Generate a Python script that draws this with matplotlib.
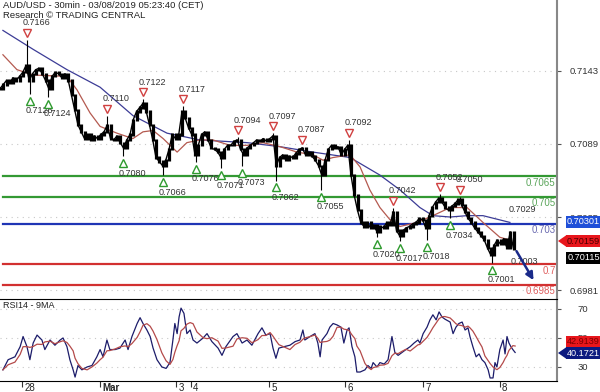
import numpy as np
import matplotlib
matplotlib.use('Agg')
import matplotlib.pyplot as plt
from matplotlib.patches import Polygon
from matplotlib.transforms import ScaledTranslation

plt.rcParams['font.family'] = ['Liberation Sans', 'DejaVu Sans']

# hourly closes, AUD/USD (30min chart, sampled every hour)
close = [0.7130, 0.7133, 0.7136, 0.7134, 0.7138, 0.7136, 0.7139, 0.7142, 0.7147, 0.7136,
         0.7141, 0.7144, 0.7145, 0.7141, 0.7136, 0.7130, 0.7139, 0.7142, 0.7141, 0.7138,
         0.7141, 0.7136, 0.7125, 0.7114, 0.7103, 0.7098, 0.7093, 0.7096, 0.7092, 0.7095,
         0.7093, 0.7096, 0.7098, 0.7103, 0.7093, 0.7092, 0.7095, 0.7090, 0.7086, 0.7092,
         0.7096, 0.7107, 0.7113, 0.7116, 0.7119, 0.7113, 0.7103, 0.7092, 0.7079, 0.7076,
         0.7073, 0.7077, 0.7085, 0.7096, 0.7093, 0.7096, 0.7113, 0.7108, 0.7101, 0.7096,
         0.7081, 0.7088, 0.7096, 0.7098, 0.7092, 0.7086, 0.7085, 0.7083, 0.7079, 0.7085,
         0.7088, 0.7088, 0.7091, 0.7092, 0.7085, 0.7081, 0.7086, 0.7088, 0.7090, 0.7092,
         0.7091, 0.7093, 0.7091, 0.7093, 0.7095, 0.7073, 0.7079, 0.7081, 0.7077, 0.7080,
         0.7079, 0.7082, 0.7085, 0.7086, 0.7081, 0.7083, 0.7080, 0.7077, 0.7073, 0.7066,
         0.7077, 0.7085, 0.7088, 0.7086, 0.7087, 0.7081, 0.7085, 0.7088, 0.7066, 0.7051,
         0.7040, 0.7031, 0.7028, 0.7031, 0.7027, 0.7029, 0.7024, 0.7028, 0.7027, 0.7031,
         0.7029, 0.7039, 0.7025, 0.7021, 0.7025, 0.7027, 0.7028, 0.7030, 0.7031, 0.7034,
         0.7033, 0.7027, 0.7036, 0.7042, 0.7046, 0.7049, 0.7046, 0.7042, 0.7040, 0.7043,
         0.7045, 0.7048, 0.7044, 0.7039, 0.7034, 0.7031, 0.7027, 0.7024, 0.7021, 0.7018,
         0.7012, 0.7007, 0.7014, 0.7018, 0.7015, 0.7019, 0.7012, 0.7024, 0.70115]
hours = np.arange(len(close))

# moving averages on price
ma_fast_t = [0.9, 5.2, 10.2, 20.6, 23.7, 27.7, 30.8, 36.0, 40.9, 44.0, 47.1, 50.2, 54.5,
             57.5, 61.5, 65.5, 70.8, 76.0, 80.9, 86.2, 91.4, 96.3, 99.4, 102.5, 107.7,
             110.8, 113.8, 116.9, 120.0, 123.1, 128.3, 133.2, 138.5, 143.7, 148.6, 153.8, 156.9]
ma_fast = [0.7155, 0.7144, 0.7140, 0.7139, 0.7129, 0.7112, 0.7102, 0.7097, 0.7093, 0.7098,
           0.7099, 0.7093, 0.7083, 0.7090, 0.7092, 0.7092, 0.7088, 0.7088, 0.7090, 0.7087,
           0.7083, 0.7081, 0.7077, 0.7079, 0.7081, 0.7072, 0.7055, 0.7042, 0.7033, 0.7028,
           0.7031, 0.7036, 0.7042, 0.7042, 0.7031, 0.7020, 0.7018]
ma_slow_t = [0.9, 10.2, 20.6, 30.8, 40.9, 51.4, 61.5, 76.0, 86.2, 96.3, 107.7, 116.9,
             123.1, 129.2, 133.2, 138.5, 143.7, 148.6, 156.9]
ma_slow = [0.7173, 0.7159, 0.7144, 0.7131, 0.7110, 0.7097, 0.7092, 0.7090, 0.7087, 0.7083,
           0.7079, 0.7066, 0.7055, 0.7042, 0.7036, 0.7035, 0.7036, 0.7036, 0.7031]

# swing highs / lows flagged on the chart
high_t = [8.3, 32.9, 44.0, 56.3, 73.2, 84.0, 92.9, 107.4, 120.9, 135.4, 141.5]
high_v = [0.7166, 0.7110, 0.7122, 0.7117, 0.7094, 0.7097, 0.7087, 0.7092, 0.7042, 0.7052, 0.7050]
low_t = [9.2, 14.8, 37.8, 50.2, 60.3, 68.0, 74.5, 84.9, 98.8, 116.0, 123.1, 131.4, 138.5, 151.4]
low_v = [0.7126, 0.7124, 0.7080, 0.7066, 0.7076, 0.7071, 0.7073, 0.7062, 0.7055, 0.7020,
         0.7017, 0.7018, 0.7034, 0.7001]

levels = [0.7065, 0.7050, 0.70301, 0.7000, 0.6985]
level_labels = ['0.7065', '0.705', '0.703', '0.7', '0.6985']
level_colors = ['#339933', '#339933', '#1f35b5', '#d23030', '#d23030']
label_colors = ['#5aa55a', '#5aa55a', '#6a6ab0', '#e06060', '#e06060']

price_ticks = [0.7143, 0.7089, 0.7035, 0.6981]
rsi_ticks = [70, 50, 30]

day_t = [6.8, 30.8, 54.2, 58.8, 82.8, 106.2, 130.2, 153.8]
day_labels = ['28', 'Mar', '3', '4', '5', '6', '7', '8']

rsi_t = [0.9, 2.5, 4.6, 6.2, 7.1, 8.3, 9.2, 10.2, 11.4, 12.9, 13.8, 15.4, 16.9, 18.5, 19.4,
         20.6, 21.5, 22.5, 23.1, 24.0, 25.2, 26.8, 28.3, 29.8, 30.8, 31.7, 32.9, 33.8, 35.4,
         36.9, 38.5, 39.4, 40.6, 42.2, 43.1, 44.0, 45.2, 46.2, 47.1, 48.3, 49.8, 51.1, 52.3,
         53.2, 53.8, 54.5, 55.1, 55.7, 56.6, 57.5, 58.5, 59.4, 60.6, 62.5, 63.7, 65.2, 67.1,
         68.3, 69.5, 71.7, 72.9, 74.5, 76.0, 77.5, 79.4, 80.6, 81.8, 83.1, 84.0, 84.9, 85.8,
         87.4, 89.2, 90.8, 92.3, 93.2, 93.8, 95.4, 96.9, 97.8, 98.5, 99.1, 100.6, 101.5, 102.5,
         103.7, 104.9, 105.8, 106.8, 107.4, 108.3, 109.2, 109.8, 110.8, 112.3, 113.2, 114.2,
         114.8, 116.0, 116.9, 118.2, 119.4, 120.6, 121.5, 122.5, 123.7, 124.9, 126.2, 127.4,
         128.6, 129.2, 130.2, 131.4, 132.3, 133.2, 134.2, 135.1, 136.0, 136.9, 138.5, 139.4,
         140.3, 141.2, 142.2, 143.1, 144.0, 144.6, 145.5, 146.5, 147.4, 148.3, 149.2, 150.2,
         150.8, 151.7, 152.3, 152.9, 153.8, 154.8, 155.4, 156.0, 156.6, 157.2, 157.8, 158.5]
rsi = [28, 35, 37, 44, 51, 44, 35, 46.5, 52, 48.6, 42, 48.6, 45, 48.6, 50,
       44, 35, 28, 23, 31, 28, 30, 31, 37, 42, 37, 48.6, 42, 42,
       43, 48.6, 42, 51, 60, 64, 60, 55.5, 51, 43, 35, 30, 29, 33,
       48.6, 60, 53, 64.5, 70.6, 67, 53, 55.5, 48.6, 46.5, 50, 53, 47.5, 43,
       38, 44, 51, 53, 46.5, 48.6, 45, 53, 57, 52, 53, 43, 36, 43,
       44, 45, 47.5, 48.6, 55.5, 48.6, 51, 53, 46.5, 37, 48.6, 53, 57.5, 60,
       59, 57.5, 46.5, 55.5, 57, 44, 37, 26.5, 26.5, 28, 31, 29,
       33, 30, 33, 32, 35, 51, 40, 38, 40, 42, 44, 46.5,
       48.6, 46.5, 53, 57.5, 62.5, 66, 62.5, 68, 64.5, 63, 61, 53,
       57.5, 60, 61, 55.5, 57, 51, 44, 37, 39, 35, 33, 28,
       22.4, 22.4, 33, 30, 42, 48.6, 39, 51, 46.5, 44, 42, 40]

PX = 3.25                      # pixels per hour on the source chart
XMAX = 557 / PX
PMAX, PMIN = 0.71955, 0.69751

fig = plt.figure(figsize=(6, 3.92), dpi=100)
ax = fig.add_axes([0, 1 - 298 / 392, 557 / 600, 298 / 392])
ax2 = fig.add_axes([0, 1 - 381 / 392, 557 / 600, 82 / 392])

# ---- price panel
ax.set_xlim(0, XMAX)
ax.set_ylim(PMIN, PMAX)
for p in price_ticks:
    ax.axhline(p, color='#c8c8c8', lw=0.8, ls=(0, (1, 4)), zorder=0)

for lv, c in zip(levels, level_colors):
    ax.axhline(lv, xmin=0.005, color=c, lw=1.6, zorder=1)
for lv, lab, c in zip(levels, level_labels, label_colors):
    ax.annotate(lab, (XMAX, lv), xytext=(-1, -1), textcoords='offset points',
                ha='right', va='top', fontsize=7, color=c)

ax.plot(ma_slow_t, ma_slow, color='#3c3c96', lw=0.9, zorder=2)
ax.plot(ma_fast_t, ma_fast, color='#b45a50', lw=0.9, zorder=2)

c = np.array(close)
prev = np.r_[c[0], c[:-1]]
ax.vlines(hours, np.minimum(prev, c) - 0.00008, np.maximum(prev, c) + 0.00008,
          color='black', lw=2.3, zorder=3)
ax.plot(hours, c, color='black', lw=1.0, zorder=3)
ax.vlines(high_t, np.interp(high_t, hours, c), high_v, color='black', lw=0.8, zorder=3)
ax.vlines(low_t, low_v, np.interp(low_t, hours, c), color='black', lw=0.8, zorder=3)

up = ax.transData + ScaledTranslation(0, 5 / 72, fig.dpi_scale_trans)
down = ax.transData + ScaledTranslation(0, -5 / 72, fig.dpi_scale_trans)
for t, v in zip(high_t, high_v):
    ax.plot(t, v, marker='v', ms=6, mfc='white', mec='#d04040', mew=1.0, zorder=4, transform=up)
    ax.annotate(f'{v:.4f}', (t, v), xytext=(-3, 9), textcoords='offset points',
                ha='left', va='bottom', fontsize=6.5, color='#333333')
for t, v in zip(low_t, low_v):
    ax.plot(t, v, marker='^', ms=6, mfc='white', mec='#2e9a2e', mew=1.0, zorder=4, transform=down)
    ax.annotate(f'{v:.4f}', (t, v), xytext=(-3, -9), textcoords='offset points',
                ha='left', va='top', fontsize=6.5, color='#333333')

ax.annotate('0.7029', (157.5, 0.7029), xytext=(-2, 8), textcoords='offset points',
            ha='left', va='bottom', fontsize=6.5, color='#333333')
ax.annotate('0.7003', (157.0, 0.7003), xytext=(0, -1), textcoords='offset points',
            ha='left', va='center', fontsize=6.5, color='#333333')
ax.annotate('', xy=(164.6, 0.69865), xytext=(158.5, 0.70115),
            arrowprops=dict(arrowstyle='-|>', color='#1a2a8a', lw=1.8, mutation_scale=11))

ax.yaxis.tick_right()
ax.set_yticks(price_ticks)
ax.set_yticklabels([f'{p:.4f}' for p in price_ticks])
ax.tick_params(axis='y', length=3, color='#555555', labelsize=6.8, labelcolor='#333333', pad=6)
ax.set_xticks([])
for s in ['top', 'left', 'bottom']:
    ax.spines[s].set_visible(False)
ax.spines['right'].set_color('#888888')
ax.spines['right'].set_linewidth(1.5)

fig.text(3 / 600, 1 - 5.5 / 392, 'AUD/USD - 30min - 03/08/2019 05:23:40 (CET)',
         fontsize=6.8, color='#222222', va='center')
fig.text(3 / 600, 1 - 15 / 392, 'Research \u00a9 TRADING CENTRAL',
         fontsize=6.8, color='#222222', va='center')

# ---- RSI panel
ax2.set_xlim(0, XMAX)
ax2.set_ylim(20.3, 76.9)
for r in rsi_ticks:
    ax2.axhline(r, color='#c8c8c8', lw=0.8, ls=(0, (1, 4)), zorder=0)
rt = np.array(rsi_t)
rv = np.array(rsi)
rsi_ma = [rv[(rt > t - 4.5) & (rt <= t)].mean() for t in rt]
ax2.plot(rt, rv, color='#1c1c6a', lw=0.9)
ax2.plot(rt, rsi_ma, color='#b44a4a', lw=0.9)
ax2.text(3 / PX, 75.5, 'RSI14 - 9MA', fontsize=6.5, color='#222222', va='top')

ax2.yaxis.tick_right()
ax2.set_yticks(rsi_ticks)
ax2.set_yticklabels([str(r) for r in rsi_ticks])
ax2.tick_params(axis='y', length=3, color='#555555', labelsize=6.8, labelcolor='#333333', pad=12)
ax2.set_xticks(day_t)
ax2.set_xticklabels([])
ax2.tick_params(axis='x', length=4, direction='out', color='#333333')
for t, lab in zip(day_t, day_labels):
    ax2.annotate(lab, (t, 20.3), xytext=(1.5, -1.5), textcoords='offset points',
                 ha='left', va='top', fontsize=7, color='#222222',
                 fontweight='bold' if lab == 'Mar' else 'normal')
ax2.spines['left'].set_visible(False)
ax2.spines['right'].set_color('#888888')
ax2.spines['right'].set_linewidth(1.5)

# ---- value boxes on the right scale
def value_box(y_px, text, face, fg, pointer=False):
    yc = 1 - y_px / 392
    h = 12 / 392
    x0 = 566 / 600
    fig.patches.append(plt.Rectangle((x0, yc - h / 2), 1 - x0, h, transform=fig.transFigure,
                                     facecolor=face, edgecolor='none', zorder=5))
    if pointer:
        fig.patches.append(Polygon([(558 / 600, yc), (x0 + 0.001, yc + h / 2), (x0 + 0.001, yc - h / 2)],
                                   closed=True, transform=fig.transFigure,
                                   facecolor=face, edgecolor='none', zorder=5))
    fig.text(583.5 / 600, yc, text, ha='center', va='center', fontsize=6.6, color=fg, zorder=6)

value_box(222, '0.70301', '#1f4fd8', 'white')
value_box(241, '0.70159', '#e8161c', '#4a0000', pointer=True)
value_box(258, '0.70115', '#000000', 'white')
value_box(342, '42.9139', '#e8161c', '#7a0000')
value_box(353, '40.1721', '#0c1a80', 'white', pointer=True)

fig.savefig('out.png', dpi=100)
